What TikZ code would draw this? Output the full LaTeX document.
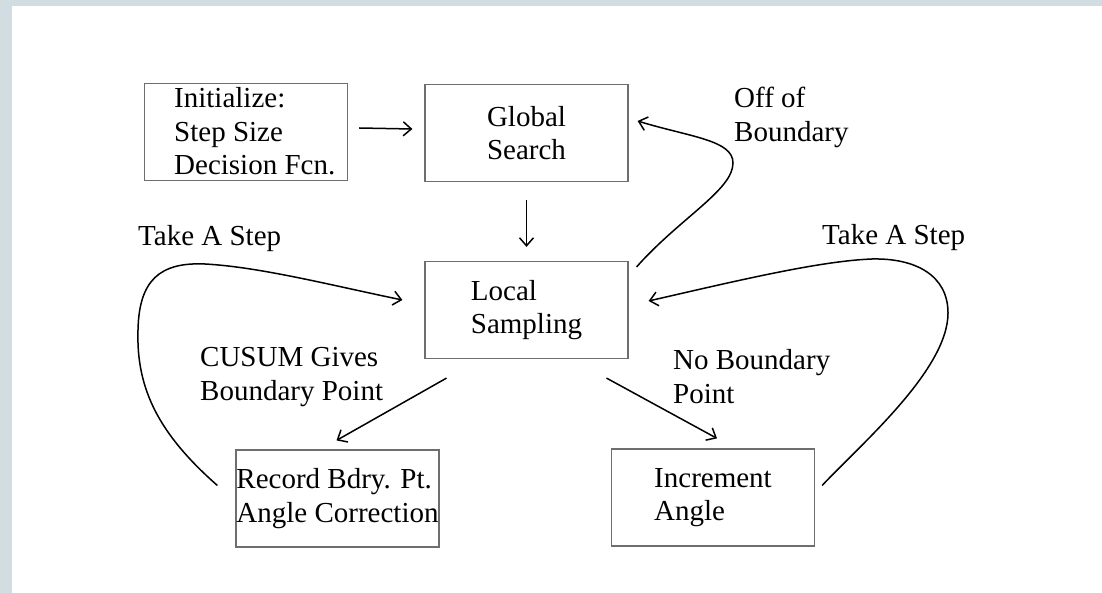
\documentclass[tikz,border=0pt]{standalone}
\usepackage{fontspec}
\setmainfont{Liberation Serif}
\usetikzlibrary{arrows.meta,positioning}

\definecolor{framegray}{HTML}{D2DDE2}
\definecolor{boxline}{HTML}{6E6E6E}

\tikzset{
  stage/.style={draw=boxline, line width=1.2pt, minimum width=203pt, minimum height=97pt, inner sep=0pt, align=left},
  note/.style={align=left, inner sep=0pt, anchor=west},
  flow/.style={draw=black, line width=1.5pt, -{Straight Barb[length=8pt,width=14pt]}},
}

\begin{document}
\begin{tikzpicture}[x=1pt, y=-1pt, font=\fontsize{29}{33.5}\selectfont]
\fill[framegray] (0,0) rectangle (1102,593);
\fill[white] (12,6) rectangle (1102,593);

% the five stages
\node[stage] (init) at (246,132) {};
\node[note] (initText) at (174,131.6) {Initialize:\\Step Size\\Decision Fcn.};
\node[stage] (global) at (526.5,133) {Global\\Search};
\node[stage] (local) at (526.5,310) {Local\\Sampling};
\node[stage] (record) at (337.5,498.5) {Record Bdry. Pt.\\Angle Correction};
\node[stage] (incr) at (713,497.5) {Increment\\Angle};

% labels on the loops
\node[note] (offLabel) at (734,117.2) {Off of\\Boundary};
\node[note, anchor=base west] (stepLeft) at (138,246) {Take A Step};
\node[note, anchor=base west] (stepRight) at (822,245) {Take A Step};
\node[note] (cusumLabel) at (200,377) {CUSUM Gives\\Boundary Point};
\node[note] (noBdryLabel) at (673,376.6) {No Boundary\\Point};

% straight arrows
\draw[flow] ([xshift=11pt,yshift=4pt]init.east) -- ([xshift=-12pt,yshift=4pt]global.west);
\draw[flow] ([yshift=-18pt]global.south) -- ([yshift=14pt]local.north);
\coordinate (cusumFrom) at ([shift={(-80,19)}]local.south);
\coordinate (noBdryFrom) at ([shift={(80,19)}]local.south);
\draw[flow] (cusumFrom) -- ([shift={(-1,-9)}]record.north);
\draw[flow] (noBdryFrom) -- ([shift={(4,-10)}]incr.north);

% curved loops
\coordinate (offFrom) at ([shift={(8,6)}]local.north east);
\coordinate (offTo) at ([shift={(9,-12)}]global.east);
\draw[flow] (offFrom) .. controls (680,218) and (733,190) .. (733,163)
  .. controls (733,140) and (690,137) .. (offTo);

\coordinate (rightFrom) at ([shift={(7,-12)}]incr.east);
\coordinate (rightTo) at ([shift={(20,-9)}]local.east);
\draw[flow] (rightFrom) .. controls (860,445) and (948,370) .. (948,313)
  .. controls (948,275) and (915,258) .. (872,259)
  .. controls (820,261) and (740,280) .. (rightTo);

\coordinate (leftFrom) at ([shift={(-18,-13)}]record.west);
\coordinate (leftTo) at ([shift={(-22,-10)}]local.west);
\draw[flow] (leftFrom) .. controls (160,435) and (136,390) .. (138,330)
  .. controls (139,280) and (160,262) .. (205,264)
  .. controls (260,267) and (330,285) .. (leftTo);
\end{tikzpicture}
\end{document}
